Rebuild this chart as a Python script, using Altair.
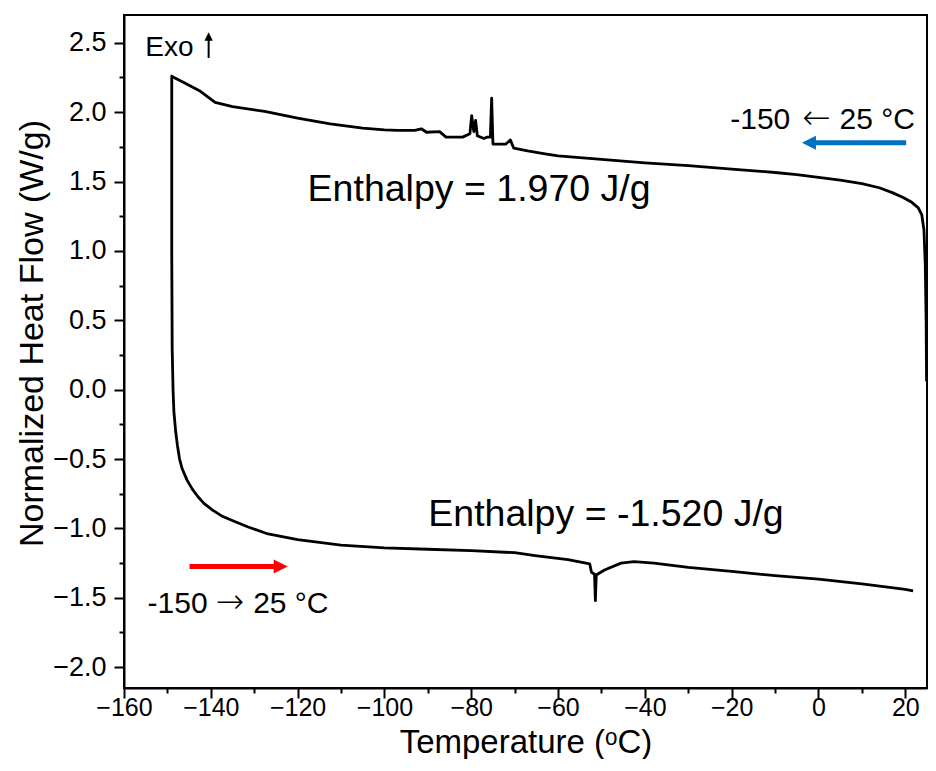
import altair as alt
import pandas as pd

# ---- data ----
# cooling run (25 -> -150 °C), in recording order
cool_T = [24.9, 24.8, 24.6, 24.3, 23.8, 23.0, 21.5, 19.5, 17.0, 14.0, 10.0, 5.0, 0.0,
          -5.0, -10.0, -20.0, -30.0, -40.0, -50.0, -60.0, -63.0, -67.0, -70.2, -71.0,
          -72.0, -75.0, -75.3, -75.6, -76.3, -77.1, -78.6, -79.0, -79.4, -79.9, -80.3,
          -82.0, -85.8, -87.3, -90.3, -91.5, -93.0, -97.0, -100.0, -105.0, -112.5,
          -120.0, -127.6, -135.0, -139.0, -142.4, -146.0, -148.5, -149.0]
cool_V = [0.06, 0.5, 0.9, 1.15, 1.26, 1.31, 1.35, 1.385, 1.42, 1.455, 1.485, 1.51, 1.53,
          1.55, 1.565, 1.59, 1.615, 1.635, 1.66, 1.685, 1.70, 1.72, 1.74, 1.80,
          1.77, 1.77, 2.10, 1.82, 1.82, 1.81, 1.83, 1.94, 1.86, 1.975, 1.845,
          1.82, 1.82, 1.86, 1.855, 1.88, 1.868, 1.868, 1.872, 1.885, 1.916,
          1.957, 2.005, 2.04, 2.07, 2.15, 2.21, 2.25, 2.26]
# heating run (-150 -> 25 °C), in recording order
heat_T = [-149.0, -149.0, -148.9, -148.7, -148.5, -148.1, -147.7, -147.2, -146.6, -145.5,
          -144.3, -143.0, -141.6, -139.5, -137.5, -134.5, -131.4, -126.8, -120.0, -110.0,
          -100.0, -90.0, -80.0, -70.0, -65.3, -57.7, -52.7, -52.3, -51.6, -51.4, -51.2,
          -49.3, -45.5, -42.5, -37.9, -30.0, -20.0, -10.0, 0.0, 10.0, 20.0, 21.8]
heat_V = [2.20, 1.0, 0.3, 0.0, -0.16, -0.30, -0.40, -0.50, -0.57, -0.65,
          -0.715, -0.77, -0.82, -0.87, -0.91, -0.95, -0.99, -1.04, -1.08, -1.12,
          -1.14, -1.15, -1.16, -1.175, -1.196, -1.225, -1.256, -1.316, -1.33, -1.52, -1.336,
          -1.30, -1.25, -1.24, -1.25, -1.28, -1.31, -1.34, -1.365, -1.40, -1.44, -1.45]

x_major = [-160, -140, -120, -100, -80, -60, -40, -20, 0, 20]
x_minor = [-150, -130, -110, -90, -70, -50, -30, -10, 10]
y_major = [-2.0, -1.5, -1.0, -0.5, 0.0, 0.5, 1.0, 1.5, 2.0, 2.5]
y_minor = [-1.75, -1.25, -0.75, -0.25, 0.25, 0.75, 1.25, 1.75, 2.25]

X_DOMAIN = [-160, 25]
Y_DOMAIN = [-2.15, 2.7]

FONT = "Liberation Sans"
ARROW_FONT = "DejaVu Sans"

T_all = cool_T + heat_T
V_all = cool_V + heat_V
df = pd.DataFrame({"T": T_all, "V": V_all, "i": list(range(len(T_all)))})

xs = alt.Scale(domain=X_DOMAIN, nice=False, zero=False)
ys = alt.Scale(domain=Y_DOMAIN, nice=False, zero=False)

common_axis = dict(tickColor="black", tickWidth=2, domainColor="black", domainWidth=2,
                   grid=False, labelFont=FONT, labelColor="black",
                   labelOverlap=False, labelFlush=False,
                   titleFont=FONT, titleColor="black", titleFontWeight="normal")

line = alt.Chart(df).mark_line(color="black", strokeWidth=2.8, strokeJoin="round").encode(
    x=alt.X("T:Q", scale=xs, axis=alt.Axis(
        values=x_major, format="d", orient="bottom", tickSize=10, labelPadding=-3,
        labelFontSize=25,
        title="Temperature (ᵒC)", titleFontSize=33, titleY=64, titleBaseline="alphabetic",
        **common_axis)),
    y=alt.Y("V:Q", scale=ys, axis=alt.Axis(
        values=y_major, format=".1f", orient="left", tickSize=10, labelPadding=8,
        labelFontSize=27,
        title="Normalized Heat Flow (W/g)", titleFontSize=34, titleX=-82, titleY=318,
        titleBaseline="alphabetic", titleAngle=270, **common_axis)),
    order="i:Q",
)

minor = alt.Chart(df).mark_point(opacity=0).encode(
    x=alt.X("T:Q", scale=xs, axis=alt.Axis(
        values=x_minor, orient="bottom", tickSize=5, labels=False, title="", domain=False,
        tickColor="black", tickWidth=2, grid=False)),
    y=alt.Y("V:Q", scale=ys, axis=alt.Axis(
        values=y_minor, orient="left", tickSize=5, labels=False, title="", domain=False,
        tickColor="black", tickWidth=2, grid=False)),
)

# ---- annotations ----
ann_text = ["Exo", "Enthalpy = 1.970 J/g", "Enthalpy = -1.520 J/g",
            "-150", "←", "25 °C", "-150", "→", "25 °C"]
ann_T = [-155.1, -117.7, -89.9, -6.5, -0.5, 22.2, -154.57, -135.56, -130.25]
ann_V = [2.405, 1.362, -0.982, 1.879, 1.879, 1.879, -1.608, -1.608, -1.608]


def text_layer(k, size, align, font=FONT, weight="normal"):
    d = pd.DataFrame({"T": [ann_T[k]], "V": [ann_V[k]], "s": [ann_text[k]]})
    return alt.Chart(d).mark_text(font=font, fontSize=size, fontWeight=weight, color="black",
                                  align=align, baseline="alphabetic").encode(
        x=alt.X("T:Q", scale=xs, axis=None), y=alt.Y("V:Q", scale=ys, axis=None), text="s:N")


texts = [text_layer(0, 28, "left"), text_layer(1, 37.5, "left"), text_layer(2, 37.5, "left"),
         text_layer(3, 30, "right"), text_layer(4, 34, "center", ARROW_FONT, 200),
         text_layer(5, 30, "right"),
         text_layer(6, 30, "left"), text_layer(7, 34, "center", ARROW_FONT, 200),
         text_layer(8, 30, "left")]

# arrows: tail, head centre, level
arrow_tail = [20.2, -144.9]
arrow_head = [-2.2, -123.9]
arrow_V = [1.78, -1.275]
arrow_color = ["#0070C0", "#FF0000"]
arrow_shape = ["M 1 -1 L -1 0 L 1 1 Z", "M -1 -1 L 1 0 L -1 1 Z"]

arrows = []
for k in range(2):
    d = pd.DataFrame({"T": [arrow_tail[k]], "T2": [arrow_head[k]], "V": [arrow_V[k]]})
    arrows.append(alt.Chart(d).mark_rule(color=arrow_color[k], strokeWidth=5).encode(
        x=alt.X("T:Q", scale=xs, axis=None), x2="T2:Q", y=alt.Y("V:Q", scale=ys, axis=None)))
    h = pd.DataFrame({"T": [arrow_head[k]], "V": [arrow_V[k]]})
    arrows.append(alt.Chart(h).mark_point(shape=arrow_shape[k], size=196, filled=True,
                                          color=arrow_color[k], opacity=1).encode(
        x=alt.X("T:Q", scale=xs, axis=None), y=alt.Y("V:Q", scale=ys, axis=None)))

# "Exo" upward arrow: x, bottom, head centre
exo_T = [-140.5]
exo_V0 = [2.39]
exo_V1 = [2.545]
exo = alt.Chart(pd.DataFrame({"T": exo_T, "V": exo_V0, "V2": exo_V1})).mark_rule(
    color="black", strokeWidth=2).encode(
    x=alt.X("T:Q", scale=xs, axis=None), y=alt.Y("V:Q", scale=ys, axis=None), y2="V2:Q")
exo_head = alt.Chart(pd.DataFrame({"T": exo_T, "V": exo_V1})).mark_point(
    shape="M -1 1 L 0 -1 L 1 1 Z", size=70, filled=True, color="black", opacity=1).encode(
    x=alt.X("T:Q", scale=xs, axis=None), y=alt.Y("V:Q", scale=ys, axis=None))

chart = alt.layer(line, minor, *texts, *arrows, exo, exo_head).resolve_axis(
    x="independent", y="independent"
).properties(
    width=803, height=673,
    autosize=alt.AutoSizeParams(type="none"),
    padding={"left": 116, "top": 7, "right": 1, "bottom": 71},
).configure_view(stroke="black", strokeWidth=2)

chart.save("out.html", embed_options={"renderer": "svg", "actions": False})
